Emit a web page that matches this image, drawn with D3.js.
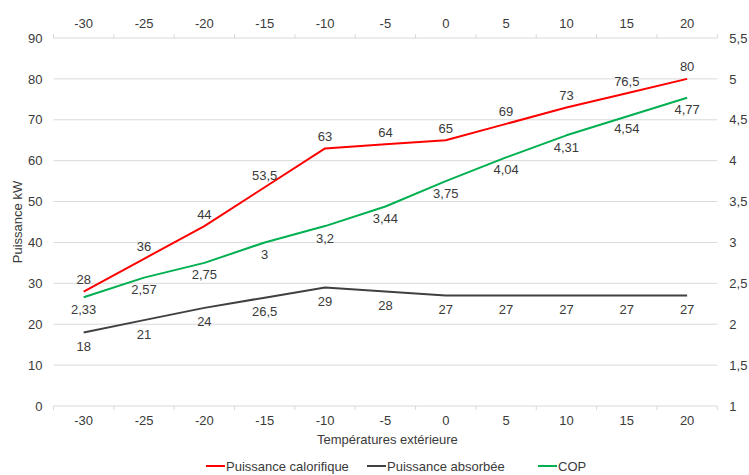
<!DOCTYPE html>
<html>
<head>
<meta charset="utf-8">
<script src="https://cdn.jsdelivr.net/npm/d3@7/dist/d3.min.js"></script>
<style>
  html, body { margin: 0; padding: 0; background: #fff; }
  svg { display: block; font-family: "Liberation Sans", Arial, sans-serif; }
</style>
</head>
<body>
<svg id="chart" width="749" height="475"></svg>
<script>
// Outdoor temperatures (°C)
const temperatures = [-30, -25, -20, -15, -10, -5, 0, 5, 10, 15, 20];
// Heating output (kW)
const puissanceCalorifique = [28, 36, 44, 53.5, 63, 64, 65, 69, 73, 76.5, 80];
// Absorbed power (kW)
const puissanceAbsorbee = [18, 21, 24, 26.5, 29, 28, 27, 27, 27, 27, 27];
// Coefficient of performance (right axis)
const cop = [2.33, 2.57, 2.75, 3, 3.2, 3.44, 3.75, 4.04, 4.31, 4.54, 4.77];
// Axis ticks
const leftTicks = [0, 10, 20, 30, 40, 50, 60, 70, 80, 90];
const rightTicks = [1, 1.5, 2, 2.5, 3, 3.5, 4, 4.5, 5, 5.5];

// French number style: comma decimal, plain hyphen for negatives
const locale = d3.formatLocale({ decimal: ",", thousands: " ", grouping: [3], currency: ["", "€"], minus: "-" });
const fmt = locale.format("~g");

const svg = d3.select("#chart");
const plotLeft = 53.5, plotRight = 717.3, plotTop = 38, plotBottom = 406;
const textColor = "#3a3a3a", gridColor = "#d9d9d9";
const fontSize = 13;

const x = d3.scaleBand().domain(temperatures).range([plotLeft, plotRight]);
const cx = t => x(t) + x.bandwidth() / 2;
const yL = d3.scaleLinear().domain([0, 90]).range([plotBottom, plotTop]);
const yR = d3.scaleLinear().domain([1, 5.5]).range([plotBottom, plotTop]);

// Horizontal gridlines
svg.append("g").selectAll("line").data(leftTicks).join("line")
  .attr("x1", plotLeft).attr("x2", plotRight)
  .attr("y1", d => yL(d)).attr("y2", d => yL(d))
  .attr("stroke", gridColor).attr("stroke-width", 1);

// Category tick marks (band boundaries), top and bottom
const boundaries = temperatures.map(t => x(t)).concat([plotRight]);
svg.append("g").selectAll("line").data(boundaries).join("line")
  .attr("x1", d => d).attr("x2", d => d)
  .attr("y1", plotBottom).attr("y2", plotBottom + 4)
  .attr("stroke", gridColor);
svg.append("g").selectAll("line").data(boundaries).join("line")
  .attr("x1", d => d).attr("x2", d => d)
  .attr("y1", plotTop).attr("y2", plotTop - 4)
  .attr("stroke", gridColor);

// Axis labels via d3 axes (no domain lines / tick lines)
function styleAxis(g) {
  g.select(".domain").remove();
  g.selectAll(".tick line").remove();
  g.selectAll("text").attr("fill", textColor).attr("font-size", fontSize)
    .attr("font-family", "Liberation Sans, Arial, sans-serif");
}
svg.append("g").attr("transform", `translate(0,${plotBottom})`)
  .call(d3.axisBottom(x).tickSize(0).tickPadding(10).tickFormat(d => fmt(d)))
  .call(styleAxis);
svg.append("g").attr("transform", `translate(0,${plotTop})`)
  .call(d3.axisTop(x).tickSize(0).tickPadding(10).tickFormat(d => fmt(d)))
  .call(styleAxis);
svg.append("g").attr("transform", `translate(${plotLeft},0)`)
  .call(d3.axisLeft(yL).tickValues(leftTicks).tickSize(0).tickPadding(11).tickFormat(d => fmt(d)))
  .call(styleAxis);
svg.append("g").attr("transform", `translate(${plotRight},0)`)
  .call(d3.axisRight(yR).tickValues(rightTicks).tickSize(0).tickPadding(12).tickFormat(d => fmt(d)))
  .call(styleAxis);

// Axis titles
svg.append("text").attr("x", (plotLeft + plotRight) / 2 + 2).attr("y", 439)
  .attr("text-anchor", "middle").attr("dominant-baseline", "central")
  .attr("fill", textColor).attr("font-size", fontSize)
  .text("Températures extérieure");
svg.append("text")
  .attr("transform", `translate(17,${(plotTop + plotBottom) / 2}) rotate(-90)`)
  .attr("text-anchor", "middle").attr("dominant-baseline", "central")
  .attr("fill", textColor).attr("font-size", fontSize)
  .text("Puissance kW");

// Series
const series = [
  { name: "Puissance calorifique", values: puissanceCalorifique, y: yL, color: "#ff0000", dy: -12 },
  { name: "Puissance absorbée", values: puissanceAbsorbee, y: yL, color: "#404040", dy: 14 },
  { name: "COP", values: cop, y: yR, color: "#00b050", dy: 12 }
];

series.forEach(s => {
  const pts = temperatures.map((t, i) => [t, s.values[i]]);
  svg.append("path").datum(pts)
    .attr("fill", "none").attr("stroke", s.color).attr("stroke-width", 2)
    .attr("stroke-linejoin", "round")
    .attr("d", d3.line().x(d => cx(d[0])).y(d => s.y(d[1])));
});

series.forEach(s => {
  const pts = temperatures.map((t, i) => [t, s.values[i]]);
  svg.append("g").selectAll("text").data(pts).join("text")
    .attr("x", d => cx(d[0])).attr("y", d => s.y(d[1]) + s.dy)
    .attr("text-anchor", "middle").attr("dominant-baseline", "central")
    .attr("fill", textColor).attr("font-size", fontSize)
    .text(d => fmt(d[1]));
});

// Legend
const legendItems = [
  { name: "Puissance calorifique", color: "#ff0000", x: 206 },
  { name: "Puissance absorbée", color: "#404040", x: 367 },
  { name: "COP", color: "#00b050", x: 538 }
];
const lg = svg.append("g");
legendItems.forEach(it => {
  lg.append("line").attr("x1", it.x).attr("x2", it.x + 19)
    .attr("y1", 466).attr("y2", 466)
    .attr("stroke", it.color).attr("stroke-width", 2);
  lg.append("text").attr("x", it.x + 20).attr("y", 466)
    .attr("dominant-baseline", "central")
    .attr("fill", textColor).attr("font-size", fontSize)
    .text(it.name);
});
</script>
</body>
</html>
